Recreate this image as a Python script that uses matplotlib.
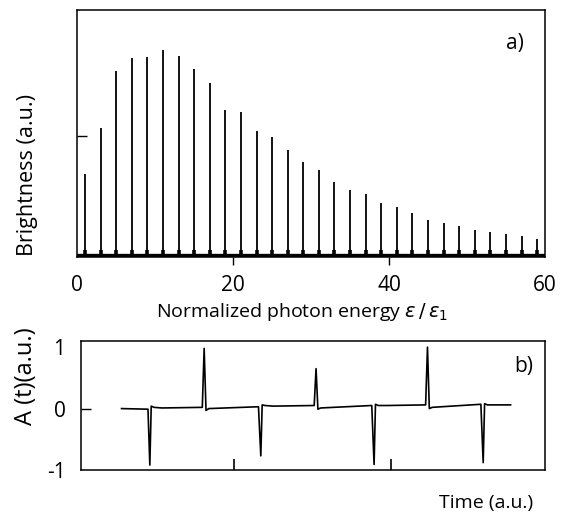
import matplotlib
matplotlib.use("Agg")
import matplotlib.pyplot as plt

plt.rcParams['font.family'] = ['Open Sans', 'DejaVu Sans']
plt.rcParams['axes.unicode_minus'] = False

# a) harmonic spectrum: odd harmonics and their brightness
harmonic_order = list(range(1, 60, 2))
brightness = [0.335, 0.523, 0.753, 0.807, 0.808, 0.838, 0.814, 0.761, 0.703, 0.595,
              0.585, 0.509, 0.486, 0.432, 0.384, 0.351, 0.303, 0.270, 0.255, 0.219,
              0.203, 0.178, 0.149, 0.139, 0.124, 0.108, 0.099, 0.091, 0.084, 0.072]
energy_ticks = [0, 20, 40, 60]

# b) attosecond pulse train in time
time_pts = [0.088, 0.145, 0.149, 0.152, 0.158, 0.175, 0.262, 0.266, 0.270, 0.276,
            0.383, 0.388, 0.391, 0.397, 0.415, 0.503, 0.507, 0.511, 0.517, 0.627,
            0.632, 0.635, 0.641, 0.660, 0.743, 0.747, 0.751, 0.757, 0.862, 0.867,
            0.870, 0.876, 0.895, 0.926]
amp_pts = [0.0, -0.01, -0.92, 0.04, 0.02, 0.01, 0.02, 0.98, -0.03, 0.0,
           0.03, -0.77, 0.06, 0.05, 0.04, 0.05, 0.65, -0.01, 0.01, 0.05,
           -0.91, 0.07, 0.05, 0.05, 0.06, 1.0, 0.0, 0.02, 0.07, -0.88,
           0.08, 0.06, 0.06, 0.06]
amp_ticks = [-1, 0, 1]
time_ticks = [0.331, 0.668]

fig = plt.figure(figsize=(5.68, 5.17), dpi=100)

# top panel
ax1 = fig.add_axes([0.136, 0.503, 0.8234, 0.478])
ax1.vlines(harmonic_order, 0, brightness, color='black', lw=1.3)
ax1.vlines(harmonic_order, 0, 0.028, color='black', lw=2.6)
ax1.axhline(0.006, color='black', lw=2.4)
ax1.set_xlim(0, 60)
ax1.set_ylim(0, 1)
ax1.set_xticks(energy_ticks)
ax1.set_yticks([0.49])
ax1.set_yticklabels([''])
ax1.tick_params(axis='x', direction='out', length=6, width=1, labelsize=15, pad=7)
ax1.tick_params(axis='y', direction='in', length=7, width=1)
for i in (0, 3):
    ax1.xaxis.get_major_ticks()[i].tick1line.set_visible(False)
for sp in ax1.spines.values():
    sp.set_linewidth(1.1)
ax1.set_xlabel(r'Normalized photon energy $\varepsilon\,/\,\varepsilon_1$', fontsize=14)
ax1.xaxis.set_label_coords(0.48, -0.18)
ax1.set_ylabel('Brightness (a.u.)', fontsize=15.5)
ax1.yaxis.set_label_coords(-0.083, 0.33)
ax1.text(0.935, 0.862, 'a)', transform=ax1.transAxes, fontsize=15,
         ha='center', va='center')

# bottom panel
ax2 = fig.add_axes([0.142, 0.0909, 0.8174, 0.2495])
ax2.plot(time_pts, amp_pts, color='black', lw=1.2)
ax2.set_xlim(0, 1)
ax2.set_ylim(-1.0, 1.1)
ax2.set_yticks(amp_ticks)
ax2.set_xticks(time_ticks)
ax2.set_xticklabels(['', ''])
ax2.tick_params(axis='x', direction='in', length=8, width=1.2)
ax2.tick_params(axis='y', direction='in', length=7, width=1, labelsize=15, pad=11)
for i in (0, 2):
    ax2.yaxis.get_major_ticks()[i].tick1line.set_visible(False)
for sp in ax2.spines.values():
    sp.set_linewidth(1.1)
ax2.set_ylabel('A (t)(a.u.)', fontsize=17)
ax2.yaxis.set_label_coords(-0.092, 0.73)
ax2.text(0.955, 0.806, 'b)', transform=ax2.transAxes, fontsize=15,
         ha='center', va='center')
fig.text(0.938, 0.027, 'Time (a.u.)', fontsize=14, ha='right', va='center')

fig.savefig('out.png', dpi=100)
